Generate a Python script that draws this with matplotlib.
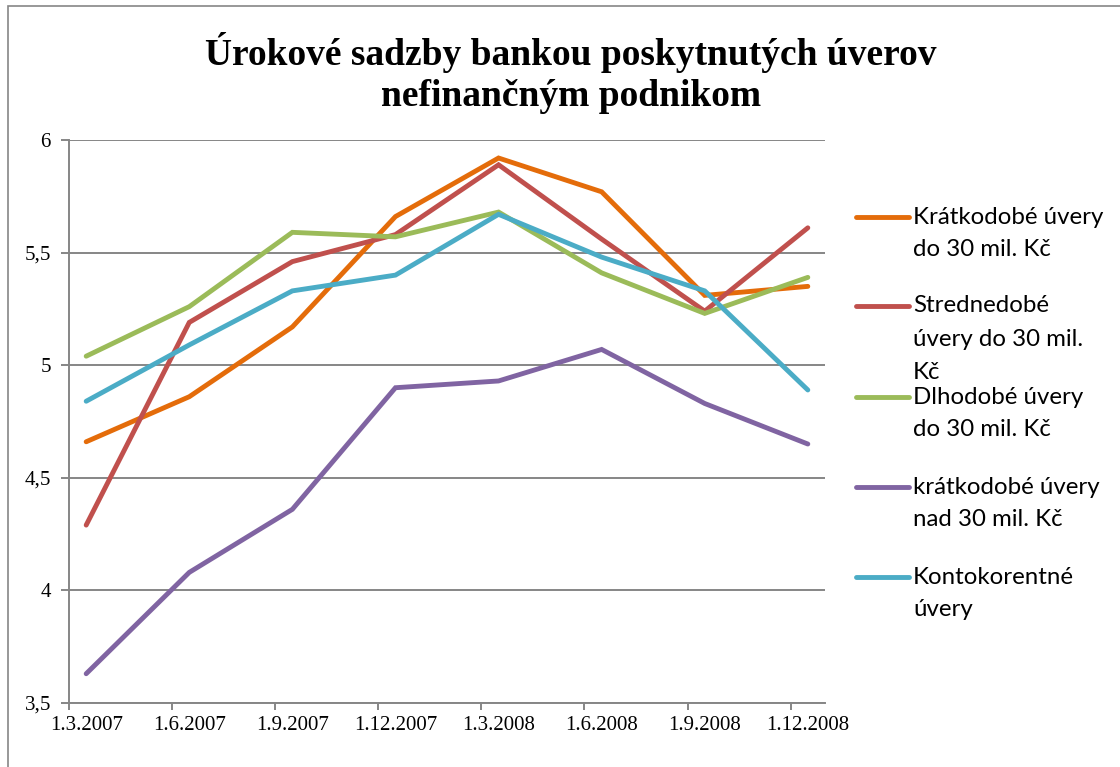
import matplotlib
matplotlib.use("Agg")
import matplotlib.pyplot as plt
from matplotlib.lines import Line2D
from matplotlib.patches import Rectangle

# ---- data ----
dates = ["1.3.2007", "1.6.2007", "1.9.2007", "1.12.2007",
         "1.3.2008", "1.6.2008", "1.9.2008", "1.12.2008"]
month_index = [0, 3, 6, 9, 12, 15, 18, 21]

kratkodobe_do30 = [4.66, 4.86, 5.17, 5.66, 5.92, 5.77, 5.31, 5.35]
strednedobe_do30 = [4.29, 5.19, 5.46, 5.58, 5.89, 5.56, 5.24, 5.61]
dlhodobe_do30 = [5.04, 5.26, 5.59, 5.57, 5.68, 5.41, 5.23, 5.39]
kratkodobe_nad30 = [3.63, 4.08, 4.36, 4.90, 4.93, 5.07, 4.83, 4.65]
kontokorentne = [4.84, 5.09, 5.33, 5.40, 5.67, 5.48, 5.33, 4.89]

series_labels = ["Krátkodobé úvery\ndo 30 mil. Kč",
                 "Strednedobé\núvery do 30 mil.\nKč",
                 "Dlhodobé úvery\ndo 30 mil. Kč",
                 "krátkodobé úvery\nnad 30 mil. Kč",
                 "Kontokorentné\núvery"]
series = [kratkodobe_do30, strednedobe_do30, dlhodobe_do30,
          kratkodobe_nad30, kontokorentne]
colors = ["#E46C0A", "#C0504D", "#9BBB59", "#8064A2", "#4BACC6"]

yticks = [3.5, 4, 4.5, 5, 5.5, 6]
ytick_labels = ["3,5", "4", "4,5", "5", "5,5", "6"]

title = "Úrokové sadzby bankou poskytnutých úverov\nnefinančným podnikom"

# ---- figure ----
W, H = 1120, 767
fig = plt.figure(figsize=(W / 100, H / 100), dpi=100)
fig.patch.set_facecolor("white")

# outer chart border (top + left visible)
fig.add_artist(Rectangle((8 / W, -0.1), 1.2, (H - 6) / H + 0.1, transform=fig.transFigure,
                         fill=False, edgecolor="#868686", lw=1.2))

L, R, T, B = 69, 825, 140, 703
ax = fig.add_axes([L / W, (H - B) / H, (R - L) / W, (B - T) / H])

for vals, col in zip(series, colors):
    ax.plot(month_index, vals, color=col, lw=3.5, solid_capstyle="round",
            solid_joinstyle="miter", zorder=3)

ax.set_xlim(-0.5, 21.5)
ax.set_ylim(3.5, 6)

serif = "Liberation Serif"
ax.set_yticks(yticks)
ax.set_yticklabels(ytick_labels, fontfamily=serif, fontsize=15)
ax.yaxis.grid(True, color="#868686", lw=1.4)
ax.set_axisbelow(True)

ax.set_xticks([m - 0.5 for m in month_index])
ax.set_xticklabels([])
ax.set_xticks(month_index, minor=True)
ax.set_xticklabels(dates, minor=True, fontfamily=serif, fontsize=15)
ax.tick_params(axis="x", which="minor", length=0, pad=9)
ax.tick_params(axis="x", which="major", length=5, width=1.4, color="#868686", direction="out")
ax.tick_params(axis="y", length=6, width=1.4, color="#868686", direction="out", pad=7)

for s in ["top", "right"]:
    ax.spines[s].set_visible(False)
for s in ["left", "bottom"]:
    ax.spines[s].set_color("#868686")
    ax.spines[s].set_linewidth(1.4)

# ---- title ----
fig.text(571 / W, 1 - 73 / H, title, ha="center", va="center", fontfamily=serif,
         fontweight="bold", fontsize=27, linespacing=1.2)

# ---- legend (drawn manually to match layout) ----
sans = "Lato"
leg_y = [217, 306, 397, 487, 577]
for lab, col, y in zip(series_labels, colors, leg_y):
    fig.add_artist(Line2D([856 / W, 909 / W], [1 - y / H, 1 - y / H], transform=fig.transFigure,
                          color=col, lw=3.5, solid_capstyle="round"))
    for i, line in enumerate(lab.split("\n")):
        fig.text(913 / W, 1 - (y + 33 * i) / H, line, ha="left", va="center",
                 fontfamily=sans, fontsize=17.3)

fig.savefig("out.png", dpi=100)
